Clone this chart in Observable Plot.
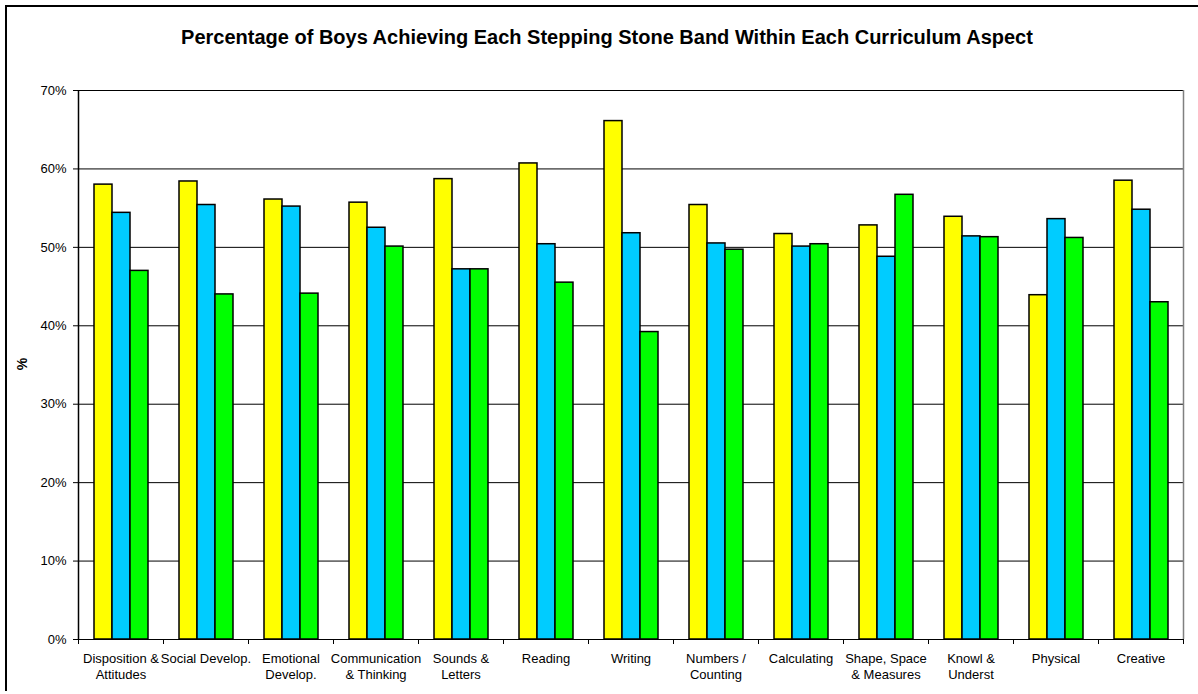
<!DOCTYPE html>
<html>
<head>
<meta charset="utf-8">
<script src="https://cdn.jsdelivr.net/npm/d3@7"></script>
<script src="https://cdn.jsdelivr.net/npm/@observablehq/plot@0.6"></script>
<style>
  html, body { margin: 0; padding: 0; background: #fff; }
  #wrap { position: relative; width: 1198px; height: 694px; overflow: hidden; font-family: "Liberation Sans", Arial, sans-serif; }
  #outline { position: absolute; left: 5px; top: 5px; width: 1220px; height: 686px; border-left: 2px solid #000; border-top: 2px solid #000; box-sizing: border-box; }
  #title { position: absolute; left: 0; width: 1214px; top: 26px; text-align: center; font-size: 20px; font-weight: bold; color: #000; }
  #ylabel { position: absolute; left: 14px; top: 356px; width: 16px; text-align: center; font-size: 14px; font-weight: bold; transform: rotate(-90deg); }
  #chart { position: absolute; left: 0; top: 0; }
</style>
</head>
<body>
<div id="wrap">
  <div id="outline"></div>
  <div id="chart"></div>
  <div id="title">Percentage of Boys Achieving Each Stepping Stone Band Within Each Curriculum Aspect</div>
  <div id="ylabel">%</div>
</div>
<script>
// Curriculum aspects (one group of bars each)
const categories = [
  "Disposition & Attitudes", "Social Develop.", "Emotional Develop.",
  "Communication & Thinking", "Sounds & Letters", "Reading", "Writing",
  "Numbers / Counting", "Calculating", "Shape, Space & Measures",
  "Knowl & Underst", "Physical", "Creative"
];
// Axis labels, broken over two lines
const categoryLabels = [
  "Disposition &\nAttitudes", "Social Develop.", "Emotional\nDevelop.",
  "Communication\n& Thinking", "Sounds &\nLetters", "Reading", "Writing",
  "Numbers /\nCounting", "Calculating", "Shape, Space\n& Measures",
  "Knowl &\nUnderst", "Physical", "Creative"
];
// Stepping stone bands
const bands = ["Yellow band", "Blue band", "Green band"];
const bandColors = ["#ffff00", "#00ccff", "#00ff00"];

// Percentage of boys in each band, per aspect
const yellowValues = [58.0, 58.4, 56.1, 55.7, 58.7, 60.7, 66.1, 55.4, 51.7, 52.8, 53.9, 43.9, 58.5];
const blueValues   = [54.4, 55.4, 55.2, 52.5, 47.2, 50.4, 51.8, 50.5, 50.1, 48.8, 51.4, 53.6, 54.8];
const greenValues  = [47.0, 44.0, 44.1, 50.1, 47.2, 45.5, 39.2, 49.7, 50.4, 56.7, 51.3, 51.2, 43.0];

// Y axis ticks
const yTicks = [0, 10, 20, 30, 40, 50, 60, 70];

const seriesValues = [yellowValues, blueValues, greenValues];
const rows = [];
categories.forEach((c, i) => {
  bands.forEach((b, j) => rows.push({aspect: c, band: b, value: seriesValues[j][i]}));
});
const labelOf = new Map(categories.map((c, i) => [c, categoryLabels[i]]));

const chart = Plot.plot({
  width: 1198,
  height: 694,
  marginLeft: 76,
  marginRight: 14,
  marginTop: 90,
  marginBottom: 55,
  style: {fontFamily: "'Liberation Sans', Arial, sans-serif", fontSize: "13px", color: "#000", background: "transparent"},
  fx: {domain: categories, padding: 0, label: null},
  x: {domain: bands, paddingInner: 0, paddingOuter: 0.74, axis: null},
  y: {domain: [0, 70], label: null},
  color: {type: "ordinal", domain: bands, range: bandColors},
  marks: [
    Plot.gridY(yTicks, {stroke: "#000", strokeOpacity: 1}),
    Plot.barY(rows, {fx: "aspect", x: "band", y: "value", fill: {value: "band", scale: "color"}, stroke: "#000", strokeWidth: 1.5}),
    Plot.axisY(yTicks, {tickSize: 5, tickPadding: 7, tickFormat: d => d + "%", label: null, fontSize: 13}),
    Plot.axisFx({anchor: "bottom", tickSize: 0, tickPadding: 12, tickFormat: d => labelOf.get(d), lineHeight: 1.23, fontSize: 13, label: null})
  ]
});
document.getElementById("chart").appendChild(chart);

// Plot-area border and category boundary ticks, placed with the plot's own scales
const fx = chart.scale("fx");
const y = chart.scale("y");
const svg = d3.select(chart);
const yTop = y.apply(70), yBottom = y.apply(0);
const bw = fx.bandwidth;
const edges = categories.map(c => fx.apply(c)).concat([fx.apply(categories[categories.length - 1]) + bw]);
const xLeft = edges[0], xRight = edges[edges.length - 1];
const g = svg.append("g").attr("fill", "none");
g.append("line").attr("x1", xRight + 0.5).attr("x2", xRight + 0.5).attr("y1", yTop).attr("y2", yBottom)
  .attr("stroke", "#808080").attr("stroke-width", 1.5);
g.append("line").attr("x1", xLeft + 0.5).attr("x2", xLeft + 0.5).attr("y1", yTop).attr("y2", yBottom)
  .attr("stroke", "#000").attr("stroke-width", 1.5);
g.append("line").attr("x1", xLeft).attr("x2", xRight).attr("y1", yBottom + 0.5).attr("y2", yBottom + 0.5)
  .attr("stroke", "#000").attr("stroke-width", 1);
g.selectAll("line.edge").data(edges).join("line").attr("class", "edge")
  .attr("x1", d => Math.round(d) + 0.5).attr("x2", d => Math.round(d) + 0.5)
  .attr("y1", yBottom).attr("y2", yBottom + 5).attr("stroke", "#000");
</script>
</body>
</html>
